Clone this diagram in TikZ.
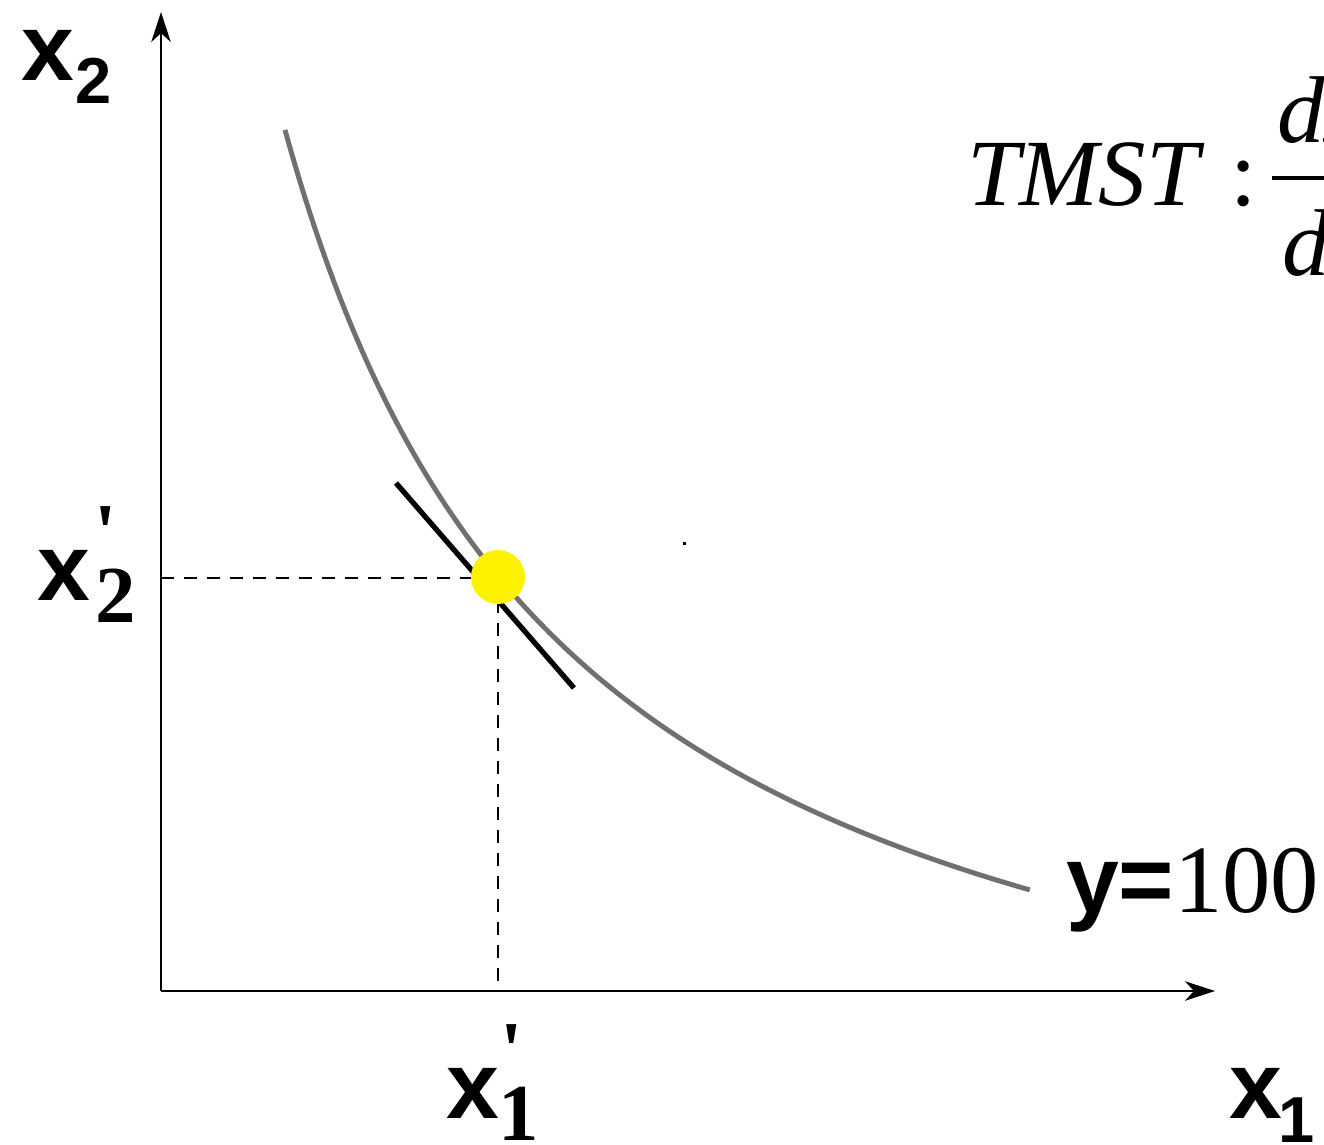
\documentclass[tikz,border=0pt]{standalone}
\usepackage{fontspec}
\setmainfont{Liberation Serif}
\newfontfamily\hsans{Liberation Sans}
\newfontfamily\plainserif{Liberation Serif}[Ligatures=TeXOff]
\usetikzlibrary{arrows.meta}
\begin{document}
\begin{tikzpicture}[x=0.02cm,y=-0.02cm,
  lbl/.style={inner sep=0,outer sep=0,anchor=base west},
  bigsans/.style={lbl,font=\hsans\bfseries\fontsize{54}{60}\selectfont},
  smallsans/.style={lbl,font=\hsans\bfseries\fontsize{37}{40}\selectfont},
  serifsub/.style={lbl,font=\bfseries\fontsize{46}{50}\selectfont},
  primemark/.style={lbl,font=\plainserif\bfseries\fontsize{46}{50}\selectfont},
  eqtext/.style={lbl,font=\itshape\fontsize{54}{60}\selectfont},
  axisline/.style={line width=1.6pt,-{Stealth[length=17pt,width=11pt,inset=5pt]}},
  guide/.style={line width=1.4pt,dash pattern=on 7.4pt off 5.7pt},
  isoquant/.style={line width=2.8pt,color=black!56},
  tangent/.style={line width=3pt,black},
  dot/.style={circle,fill=yellow,inner sep=0,minimum size=54*0.02cm}]
\useasboundingbox (0,0) rectangle (1324,1144);
\clip (0,0) rectangle (1324,1144);
% axes
\coordinate (O) at (161,991);
\coordinate (Ytop) at (161,12);
\coordinate (Xend) at (1215,991);
\draw[axisline] (O) -- (Ytop);
\draw[axisline] (O) -- (Xend);
% isoquant
\draw[isoquant] plot[domain=2.85:10.30,samples=150,variable=\u] ({100*\u},{1187.8-3088.5/(\u+0.0696)});
% tangent
\coordinate (T1) at (396,483);
\coordinate (T2) at (574,688);
\draw[tangent] (T1) -- (T2);
% guides and point
\coordinate (P) at (498,577);
\coordinate (PY) at (161,578);
\coordinate (PX) at (498,991);
\draw[guide] (PY) -- (P |- PY);
\draw[guide] (P) -- (PX);
\node[dot] (pt) at (P) {};
% stray speck
\fill (683,542) rectangle (686,545);
% labels
\node[bigsans] (x2a) at (21,80) {x};
\node[smallsans] (x2b) at (75,103) {2};
\node[bigsans] (xp2a) at (37,600) {x};
\node[primemark] (xp2p) at (94,559) {\char39};
\node[serifsub] (xp2b) at (95,622) {2};
\node[bigsans] (xp1a) at (446,1118) {x};
\node[primemark] (xp1p) at (500,1077) {\char39};
\node[serifsub] (xp1b) at (498,1140) {1};
\node[bigsans] (x1a) at (1229,1118) {x};
\node[smallsans] (x1b) at (1278,1142) {1};
\node[lbl] (ylab) at (1066,912) {\hsans\bfseries\fontsize{54}{60}\selectfont y=\rmfamily\mdseries\fontsize{55}{60}\selectfont 100};
% equation
\node[eqtext] (tmst) at (967,205) {TMST};
\node[lbl,font=\fontsize{54}{60}\selectfont] (colon) at (1230,205) {:};
\node[eqtext] (num) at (1277,142) {dx};
\node[eqtext] (den) at (1282,275) {dx};
\draw[line width=2.8pt] (1272,178) -- (1330,178);
\end{tikzpicture}
\end{document}
